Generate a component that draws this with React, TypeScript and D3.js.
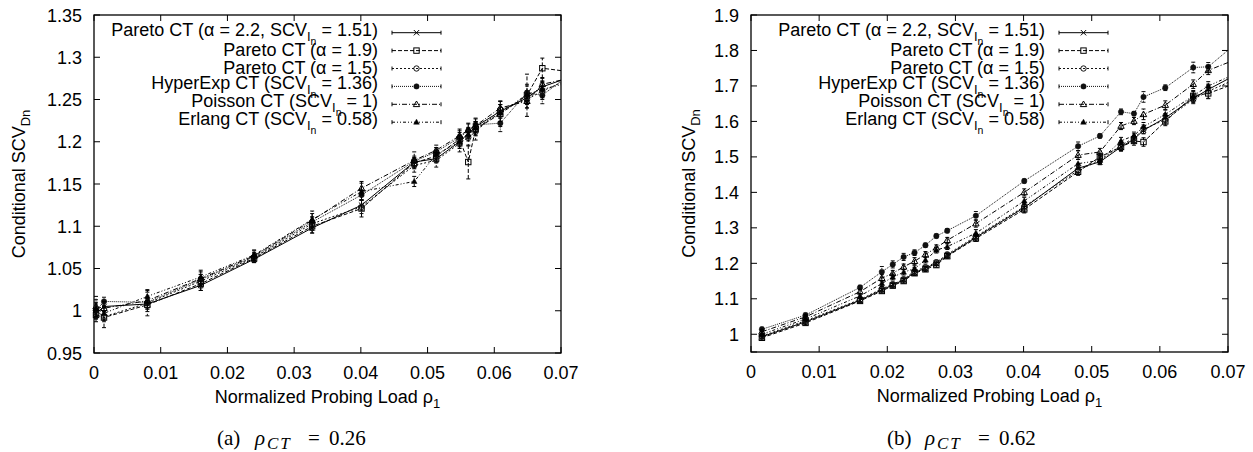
import React from 'react';
import * as d3 from 'd3';

// ---------- DATA ----------
const seriesPrefix = [
  'Pareto CT (α = 2.2, SCV',
  'Pareto CT (α = 1.9)',
  'Pareto CT (α = 1.5)',
  'HyperExp CT (SCV',
  'Poisson CT (SCV',
  'Erlang CT (SCV',
];
const seriesHasSub = [true, false, false, true, true, true];
const seriesSuffix = [' = 1.51)', '', '', ' = 1.36)', ' = 1)', ' = 0.58)'];

// Left panel (rho_CT = 0.26)
const leftX = [0.0003, 0.0015, 0.008, 0.016, 0.024, 0.0327, 0.0401, 0.048, 0.0513, 0.0548, 0.0561, 0.0572, 0.0609, 0.0649, 0.0672, 0.0712];
const leftPareto22 = [0.997, 1.005, 1.008, 1.030, 1.061, 1.098, 1.125, 1.176, 1.180, 1.200, 1.210, 1.218, 1.236, 1.252, 1.265, 1.276];
const leftPareto19 = [0.995, 0.992, 1.007, 1.032, 1.062, 1.100, 1.121, 1.175, 1.183, 1.203, 1.176, 1.215, 1.233, 1.255, 1.287, 1.283];
const leftPareto15 = [1.000, 0.993, 1.009, 1.035, 1.063, 1.103, 1.123, 1.172, 1.178, 1.198, 1.205, 1.212, 1.238, 1.250, 1.260, 1.274];
const leftHyperExp = [1.000, 1.011, 1.010, 1.037, 1.064, 1.105, 1.137, 1.177, 1.188, 1.205, 1.213, 1.220, 1.222, 1.258, 1.255, 1.279];
const leftPoisson = [1.005, 1.003, 1.012, 1.038, 1.065, 1.107, 1.145, 1.178, 1.190, 1.207, 1.214, 1.219, 1.240, 1.248, 1.268, 1.275];
const leftErlang = [1.003, 0.997, 1.017, 1.040, 1.066, 1.108, 1.141, 1.153, 1.185, 1.200, 1.209, 1.216, 1.234, 1.256, 1.262, 1.270];
const leftErrP22 = [0.006, 0.006, 0.006, 0.006, 0.004, 0.006, 0.006, 0.005, 0.005, 0.006, 0.006, 0.006, 0.008, 0.008, 0.006, 0.006];
const leftErrP19 = [0.008, 0.012, 0.008, 0.008, 0.005, 0.008, 0.010, 0.006, 0.006, 0.008, 0.020, 0.008, 0.015, 0.025, 0.012, 0.010];
const leftErrP15 = [0.010, 0.006, 0.015, 0.008, 0.005, 0.008, 0.008, 0.008, 0.008, 0.010, 0.010, 0.010, 0.010, 0.010, 0.010, 0.010];
const leftErrHyp = [0.008, 0.005, 0.006, 0.006, 0.005, 0.006, 0.006, 0.006, 0.005, 0.008, 0.008, 0.008, 0.010, 0.010, 0.010, 0.010];
const leftErrPoi = [0.012, 0.008, 0.010, 0.008, 0.006, 0.008, 0.008, 0.010, 0.006, 0.008, 0.008, 0.008, 0.008, 0.008, 0.008, 0.010];
const leftErrErl = [0.010, 0.008, 0.008, 0.008, 0.006, 0.010, 0.010, 0.006, 0.008, 0.008, 0.008, 0.008, 0.010, 0.010, 0.010, 0.010];

// Right panel (rho_CT = 0.62)
const rightX = [0.0016, 0.008, 0.016, 0.0192, 0.0208, 0.0224, 0.024, 0.0256, 0.0272, 0.0288, 0.033, 0.0401, 0.048, 0.0512, 0.0543, 0.0562, 0.0576, 0.0608, 0.0649, 0.0671, 0.0712];
const rightPareto22 = [0.993, 1.035, 1.096, 1.125, 1.139, 1.153, 1.174, 1.186, 1.200, 1.222, 1.273, 1.357, 1.468, 1.486, 1.528, 1.550, 1.575, 1.610, 1.665, 1.690, 1.732];
const rightPareto19 = [0.990, 1.032, 1.094, 1.122, 1.137, 1.150, 1.172, 1.183, 1.195, 1.220, 1.270, 1.352, 1.458, 1.500, 1.528, 1.545, 1.542, 1.600, 1.672, 1.679, 1.708];
const rightPareto15 = [0.995, 1.038, 1.098, 1.128, 1.141, 1.155, 1.178, 1.189, 1.203, 1.225, 1.276, 1.360, 1.462, 1.490, 1.533, 1.553, 1.578, 1.605, 1.662, 1.685, 1.720];
const rightHyperExp = [1.014, 1.054, 1.132, 1.176, 1.197, 1.218, 1.230, 1.251, 1.277, 1.292, 1.334, 1.432, 1.530, 1.559, 1.627, 1.622, 1.669, 1.695, 1.752, 1.754, 1.820];
const rightPoisson = [1.007, 1.049, 1.120, 1.158, 1.172, 1.190, 1.206, 1.225, 1.244, 1.265, 1.312, 1.400, 1.505, 1.514, 1.587, 1.601, 1.620, 1.646, 1.705, 1.744, 1.775];
const rightErlang = [1.000, 1.043, 1.108, 1.143, 1.161, 1.175, 1.185, 1.209, 1.237, 1.247, 1.285, 1.376, 1.481, 1.490, 1.545, 1.560, 1.585, 1.620, 1.672, 1.700, 1.735];
const rightErrP22 = [0.006, 0.008, 0.006, 0.006, 0.006, 0.006, 0.008, 0.006, 0.006, 0.006, 0.010, 0.012, 0.012, 0.008, 0.010, 0.010, 0.010, 0.012, 0.012, 0.012, 0.012];
const rightErrP19 = [0.006, 0.006, 0.006, 0.006, 0.006, 0.006, 0.006, 0.006, 0.006, 0.006, 0.008, 0.010, 0.010, 0.010, 0.012, 0.012, 0.012, 0.012, 0.015, 0.015, 0.012];
const rightErrP15 = [0.006, 0.006, 0.006, 0.008, 0.006, 0.006, 0.010, 0.006, 0.006, 0.006, 0.008, 0.010, 0.010, 0.010, 0.012, 0.012, 0.012, 0.012, 0.012, 0.020, 0.012];
const rightErrHyp = [0.006, 0.006, 0.006, 0.015, 0.010, 0.010, 0.008, 0.006, 0.006, 0.006, 0.012, 0.006, 0.012, 0.006, 0.008, 0.006, 0.015, 0.008, 0.015, 0.012, 0.012];
const rightErrPoi = [0.006, 0.006, 0.006, 0.010, 0.008, 0.008, 0.010, 0.008, 0.008, 0.008, 0.010, 0.010, 0.012, 0.010, 0.010, 0.010, 0.015, 0.012, 0.012, 0.012, 0.012];
const rightErrErl = [0.006, 0.006, 0.006, 0.008, 0.008, 0.008, 0.008, 0.008, 0.008, 0.008, 0.010, 0.010, 0.012, 0.010, 0.010, 0.010, 0.012, 0.012, 0.012, 0.012, 0.012];

const leftXTicks = [0, 0.01, 0.02, 0.03, 0.04, 0.05, 0.06, 0.07];
const leftYTicks = [0.95, 1.0, 1.05, 1.1, 1.15, 1.2, 1.25, 1.3, 1.35];
const rightXTicks = [0, 0.01, 0.02, 0.03, 0.04, 0.05, 0.06, 0.07];
const rightYTicks = [0.95, 1.0, 1.1, 1.2, 1.3, 1.4, 1.5, 1.6, 1.7, 1.8, 1.9];
const rightYLabelled = [1.0, 1.1, 1.2, 1.3, 1.4, 1.5, 1.6, 1.7, 1.8, 1.9];

const leftSeries = [leftPareto22, leftPareto19, leftPareto15, leftHyperExp, leftPoisson, leftErlang];
const leftErrs = [leftErrP22, leftErrP19, leftErrP15, leftErrHyp, leftErrPoi, leftErrErl];
const rightSeries = [rightPareto22, rightPareto19, rightPareto15, rightHyperExp, rightPoisson, rightErlang];
const rightErrs = [rightErrP22, rightErrP19, rightErrP15, rightErrHyp, rightErrPoi, rightErrErl];

// ---------- STYLES ----------
const STYLES: { dash: string | undefined; marker: string; color: string }[] = [
  { dash: undefined, marker: 'cross', color: '#000' },
  { dash: '4,2', marker: 'square', color: '#000' },
  { dash: '2,2', marker: 'circle', color: '#111' },
  { dash: '1,1', marker: 'dot', color: '#111' },
  { dash: '5,2,1,2', marker: 'tri', color: '#000' },
  { dash: '3,2,1,2,1,2', marker: 'trifill', color: '#000' },
];
const FONT = '"Liberation Sans", Arial, Helvetica, sans-serif';
const SERIF = '"Liberation Serif", "Times New Roman", serif';
const FS = 18;

function Marker({ type, x, y, color }: { type: string; x: number; y: number; color: string }) {
  const s = 2.7;
  switch (type) {
    case 'cross':
      return (
        <g stroke={color} strokeWidth={1}>
          <line x1={x - s} y1={y - s} x2={x + s} y2={y + s} />
          <line x1={x - s} y1={y + s} x2={x + s} y2={y - s} />
        </g>
      );
    case 'square':
      return <rect x={x - s} y={y - s} width={2 * s} height={2 * s} fill="none" stroke={color} strokeWidth={1} />;
    case 'circle':
      return <circle cx={x} cy={y} r={s} fill="none" stroke={color} strokeWidth={1} />;
    case 'dot':
      return <circle cx={x} cy={y} r={s} fill={color} stroke={color} strokeWidth={0.5} />;
    case 'tri':
      return (
        <path d={`M${x},${y - 3.3}L${x + 3.2},${y + 2.3}L${x - 3.2},${y + 2.3}Z`} fill="none" stroke={color} strokeWidth={1} />
      );
    case 'trifill':
      return <path d={`M${x},${y - 3}L${x + 2.8},${y + 2}L${x - 2.8},${y + 2}Z`} fill={color} stroke={color} strokeWidth={0.5} />;
    default:
      return null;
  }
}

type PanelProps = {
  id: string;
  left: number;
  right: number;
  top: number;
  bottom: number;
  yDomain: [number, number];
  xTicks: number[];
  yTicks: number[];
  yLabelled: number[];
  xs: number[];
  series: number[][];
  errs: number[][];
  yLabelX: number;
  captionX: number;
  captionLetter: string;
  captionValue: string;
};

const fmt = (v: number) => String(+v.toFixed(3));

function Panel(p: PanelProps) {
  const x = d3.scaleLinear().domain([0, 0.07]).range([p.left, p.right]);
  const y = d3.scaleLinear().domain(p.yDomain).range([p.bottom, p.top]);
  const line = d3
    .line<number>()
    .x((_, i) => x(p.xs[i]))
    .y((d) => y(d));
  const tick = 6;
  const midX = (p.left + p.right) / 2;
  const midY = (p.top + p.bottom) / 2;
  const legTextX = p.right - 183;
  const legL = p.right - 169;
  const legR = p.right - 120;
  const legY0 = p.top + 17.7;
  const legStep = 17.9;
  const cx = p.captionX;

  return (
    <g>
      <defs>
        <clipPath id={`clip-${p.id}`}>
          <rect x={p.left - 10} y={p.top} width={p.right - p.left + 10} height={p.bottom - p.top} />
        </clipPath>
      </defs>
      {/* data */}
      <g clipPath={`url(#clip-${p.id})`}>
        {p.series.map((ser, si) => {
          const st = STYLES[si];
          return (
            <g key={si}>
              <path d={line(ser) || ''} fill="none" stroke={st.color} strokeWidth={1} strokeDasharray={st.dash} />
              {ser.map((v, i) => {
                const px = x(p.xs[i]);
                const e = p.errs[si][i];
                const y1 = y(v - e);
                const y2 = y(v + e);
                return (
                  <g key={i} stroke={st.color} strokeWidth={1}>
                    <line x1={px} x2={px} y1={y1} y2={y2} strokeDasharray={st.dash} />
                    <line x1={px - 2} x2={px + 2} y1={y1} y2={y1} />
                    <line x1={px - 2} x2={px + 2} y1={y2} y2={y2} />
                  </g>
                );
              })}
              {ser.map((v, i) => (
                <Marker key={'m' + i} type={st.marker} x={x(p.xs[i])} y={y(v)} color={st.color} />
              ))}
            </g>
          );
        })}
      </g>
      {/* border */}
      <rect x={p.left} y={p.top} width={p.right - p.left} height={p.bottom - p.top} fill="none" stroke="#000" strokeWidth={1.3} />
      {/* ticks */}
      {p.xTicks.map((t) => (
        <g key={'xt' + t}>
          <line x1={x(t)} x2={x(t)} y1={p.bottom} y2={p.bottom - tick} stroke="#000" strokeWidth={1} />
          <line x1={x(t)} x2={x(t)} y1={p.top} y2={p.top + tick} stroke="#000" strokeWidth={1} />
          <text x={x(t)} y={p.bottom + 25.5} textAnchor="middle" fontFamily={FONT} fontSize={FS} fill="#000">
            {fmt(t)}
          </text>
        </g>
      ))}
      {p.yTicks.map((t) => (
        <g key={'yt' + t}>
          <line x1={p.left} x2={p.left + tick} y1={y(t)} y2={y(t)} stroke="#000" strokeWidth={1} />
          <line x1={p.right} x2={p.right - tick} y1={y(t)} y2={y(t)} stroke="#000" strokeWidth={1} />
        </g>
      ))}
      {p.yLabelled.map((t) => (
        <text key={'yl' + t} x={p.left - 12} y={y(t) + 6.5} textAnchor="end" fontFamily={FONT} fontSize={FS} fill="#000">
          {fmt(t)}
        </text>
      ))}
      {/* axis labels */}
      <text x={midX} y={p.bottom + 50} textAnchor="middle" fontFamily={FONT} fontSize={FS} fill="#000">
        Normalized Probing Load ρ
        <tspan dy={5} fontSize={13}>1</tspan>
      </text>
      <text
        transform={`translate(${p.yLabelX},${midY}) rotate(-90)`}
        textAnchor="middle"
        fontFamily={FONT}
        fontSize={FS}
        fill="#000"
      >
        Conditional SCV
        <tspan dy={5} fontSize={13}>Dn</tspan>
      </text>
      {/* legend */}
      {STYLES.map((st, i) => {
        const ly = legY0 + i * legStep;
        const baseY = seriesHasSub[i] ? ly + 3 : ly + 5.5;
        return (
          <g key={'lg' + i}>
            <text x={legTextX} y={baseY} textAnchor="end" fontFamily={FONT} fontSize={FS} fill="#000">
              {seriesPrefix[i]}
              {seriesHasSub[i] ? (
                <>
                  <tspan dy={5} fontSize={13}>I</tspan>
                  <tspan dy={4} fontSize={10.5}>n</tspan>
                  <tspan dy={-9} fontSize={FS}>{seriesSuffix[i]}</tspan>
                </>
              ) : null}
            </text>
            <line x1={legL} x2={legR} y1={ly} y2={ly} stroke={st.color} strokeWidth={1} strokeDasharray={st.dash} />
            <line x1={legL} x2={legL} y1={ly - 2} y2={ly + 2} stroke={st.color} strokeWidth={1} />
            <line x1={legR} x2={legR} y1={ly - 2} y2={ly + 2} stroke={st.color} strokeWidth={1} />
            <Marker type={st.marker} x={(legL + legR) / 2} y={ly} color={st.color} />
          </g>
        );
      })}
      {/* caption */}
      <text y={445} fontFamily={SERIF} fontSize={21} fill="#000">
        <tspan x={cx}>({p.captionLetter})</tspan>
        <tspan x={cx + 38} fontStyle="italic">ρ</tspan>
        <tspan x={cx + 50} dy={4} fontStyle="italic" fontSize={17} letterSpacing={2}>CT</tspan>
        <tspan x={cx + 91} dy={-4}>=</tspan>
        <tspan x={cx + 112}>{p.captionValue}</tspan>
      </text>
    </g>
  );
}

export default function App() {
  return (
    <svg
      width={1253}
      height={452}
      viewBox="0 0 1253 452"
      style={{ position: 'absolute', left: 0, top: 0, background: '#fff' }}
    >
      <rect x={0} y={0} width={1253} height={452} fill="#fff" />
      <Panel
        id="a"
        left={94}
        right={561}
        top={15}
        bottom={353}
        yDomain={[0.95, 1.35]}
        xTicks={leftXTicks}
        yTicks={leftYTicks}
        yLabelled={leftYTicks}
        xs={leftX}
        series={leftSeries}
        errs={leftErrs}
        yLabelX={25}
        captionX={217}
        captionLetter="a"
        captionValue="0.26"
      />
      <Panel
        id="b"
        left={751}
        right={1228}
        top={15}
        bottom={352}
        yDomain={[0.95, 1.9]}
        xTicks={rightXTicks}
        yTicks={rightYTicks}
        yLabelled={rightYLabelled}
        xs={rightX}
        series={rightSeries}
        errs={rightErrs}
        yLabelX={695}
        captionX={887}
        captionLetter="b"
        captionValue="0.62"
      />
    </svg>
  );
}
